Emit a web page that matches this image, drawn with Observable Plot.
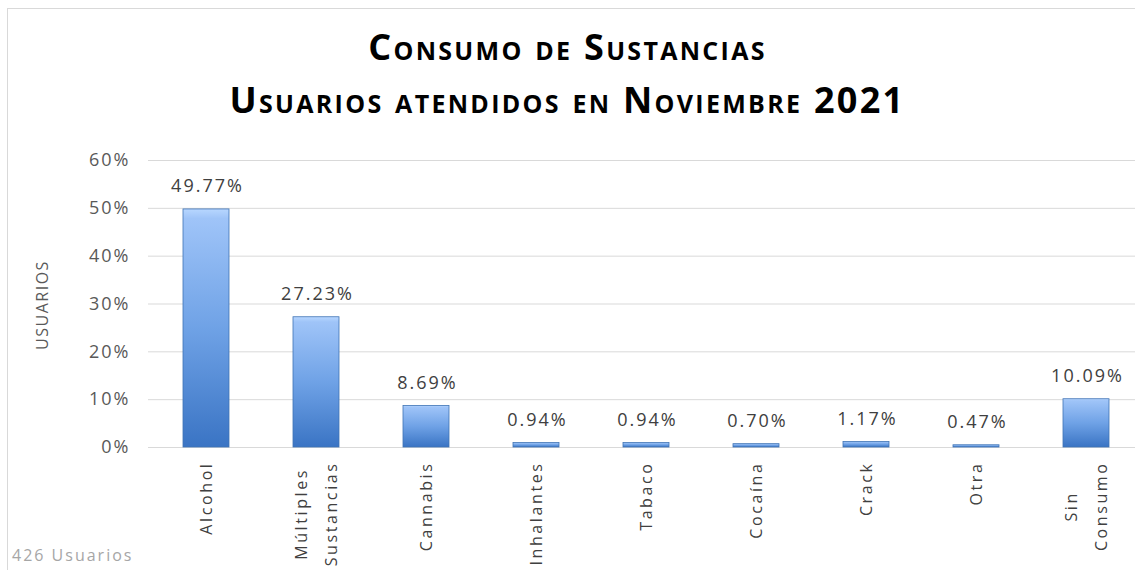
<!DOCTYPE html>
<html>
<head>
<meta charset="utf-8">
<script src="https://cdn.jsdelivr.net/npm/d3@7"></script>
<script src="https://cdn.jsdelivr.net/npm/@observablehq/plot@0.6"></script>
<style>
  html, body { margin: 0; padding: 0; background: #fff; }
  #wrap { position: relative; width: 1135px; height: 570px; overflow: hidden; font-family: "Open Sans", Lato, sans-serif; }
  #border { position: absolute; left: 7px; top: 8px; width: 1140px; height: 580px; border: 1px solid #d9d9d9; box-sizing: border-box; }
  #title { position: absolute; left: 0; top: 20px; width: 1135px; text-align: center; font-weight: 700; font-variant: small-caps; font-size: 36px; line-height: 53px; color: #000; letter-spacing: 2.3px; }
  #chart { position: absolute; left: 0; top: 130px; }
  #caption { position: absolute; left: 12px; top: 544px; font-size: 16px; color: #a6a6a6; letter-spacing: 2px; }
  #ylabel { position: absolute; left: 42px; top: 305px; transform: translate(-50%, -50%) rotate(-90deg); font-size: 16px; color: #595959; white-space: nowrap; letter-spacing: 1.5px; }
  #chart svg g[aria-label="x-axis tick label"] text { letter-spacing: 2.6px; }
  #chart svg g[aria-label="y-axis tick label"] text { letter-spacing: 2px; }
  #chart svg g[aria-label="text"] text { letter-spacing: 2px; }
</style>
</head>
<body>
<div id="wrap">
  <div id="border"></div>
  <div id="title">Consumo de Sustancias<br>Usuarios atendidos en Noviembre 2021</div>
  <div id="ylabel">USUARIOS</div>
  <div id="chart"></div>
  <div id="caption">426 Usuarios</div>
</div>
<script>
const categories = ["Alcohol", "Múltiples\nSustancias", "Cannabis", "Inhalantes", "Tabaco", "Cocaína", "Crack", "Otra", "Sin\nConsumo"];
const values = [49.77, 27.23, 8.69, 0.94, 0.94, 0.70, 1.17, 0.47, 10.09];
const yTicks = [0, 10, 20, 30, 40, 50, 60];

const data = categories.map((c, i) => ({cat: c, val: values[i]}));

const plot = Plot.plot({
  width: 1135,
  height: 440,
  marginTop: 30,
  marginBottom: 123,
  marginLeft: 148,
  marginRight: 0,
  style: {fontFamily: "'Open Sans', Lato, sans-serif", overflow: "visible"},
  x: {domain: categories, range: [150, 1142], paddingInner: 0.58, paddingOuter: 0.29, label: null},
  y: {domain: [0, 60], ticks: yTicks, label: null},
  marks: [
    Plot.gridY(yTicks, {stroke: "#d9d9d9", strokeOpacity: 1, strokeWidth: 1}),
    Plot.axisY(yTicks, {tickSize: 0, tickPadding: 18, fontSize: 18, fill: "#595959", tickFormat: d => d + "%", label: null}),
    Plot.barY(data, {x: "cat", y: "val", fill: "url(#barGrad)", stroke: "#3f73b5", strokeWidth: 0.8}),
    Plot.text(data, {x: "cat", y: "val", text: d => d.val.toFixed(2) + "%", lineAnchor: "bottom", dy: -17, dx: 1, fontSize: 18, fill: "#404040"}),
    Plot.axisX({tickSize: 0, tickPadding: 14, tickRotate: -90, textAnchor: "end", fontSize: 16, fill: "#404040", lineHeight: 1.85, dx: -4, label: null})
  ]
});

const ns = "http://www.w3.org/2000/svg";
const defs = document.createElementNS(ns, "defs");
defs.innerHTML = `
<linearGradient id="barGrad" x1="0" y1="0" x2="0" y2="1">
  <stop offset="0" stop-color="#b8d7ff"/>
  <stop offset="0.04" stop-color="#9fc4f8"/>
  <stop offset="0.5" stop-color="#6fa2e6"/>
  <stop offset="1" stop-color="#3a74c4"/>
</linearGradient>`;
plot.insertBefore(defs, plot.firstChild);
document.getElementById("chart").appendChild(plot);

// center lines of multi-line x labels within their block (as in the original)
plot.querySelectorAll('g[aria-label="x-axis tick label"] text').forEach(t => {
  const spans = t.querySelectorAll("tspan");
  if (spans.length < 2) return;
  const lens = Array.from(spans, s => s.getComputedTextLength());
  const L = Math.max(...lens);
  spans.forEach((s, i) => s.setAttribute("x", -(L - lens[i]) / 2));
});
</script>
</body>
</html>
